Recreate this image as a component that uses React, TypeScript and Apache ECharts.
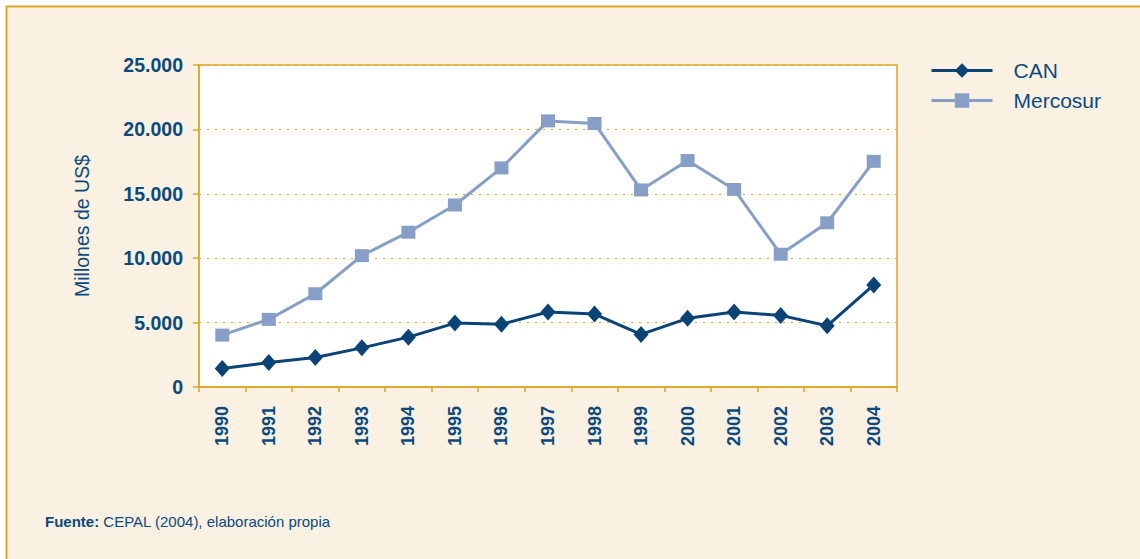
import React, { useEffect, useRef } from "react";
import * as echarts from "echarts";

const years = ["1990", "1991", "1992", "1993", "1994", "1995", "1996", "1997", "1998", "1999", "2000", "2001", "2002", "2003", "2004"];
const canValues = [1430, 1900, 2290, 3040, 3870, 4960, 4880, 5820, 5660, 4080, 5330, 5820, 5560, 4750, 7920];
const mercosurValues = [4030, 5250, 7240, 10200, 12020, 14130, 17010, 20660, 20460, 15300, 17580, 15340, 10310, 12750, 17520];
const yTicks = [0, 5000, 10000, 15000, 20000, 25000];
const seriesNames = ["CAN", "Mercosur"];
const yAxisTitle = "Millones de US$";
const sourceLabel = "Fuente:";
const sourceText = " CEPAL (2004), elaboración propia";

const FONT = '"Liberation Sans", Arial, sans-serif';
const TEXT = "#0b4a7e";
const GOLD = "#dba72a";
const CAN_COLOR = "#0b4377";
const MERC_COLOR = "#879fc6";
const CREAM = "#faf1e2";

const fmt = (v: number) => String(v).replace(/\B(?=(\d{3})+(?!\d))/g, ".");

export default function App() {
  const ref = useRef<HTMLDivElement>(null);
  useEffect(() => {
    if (!ref.current) return;
    const chart = echarts.init(ref.current, null, { renderer: "svg" });
    chart.setOption({
      animation: false,
      backgroundColor: "#ffffff",
      graphic: [
        { type: "rect", shape: { x: 6, y: 6, width: 1134, height: 553 }, style: { fill: CREAM }, z: -10 },
        { type: "line", shape: { x1: 6, y1: 6.5, x2: 1140, y2: 6.5 }, style: { stroke: GOLD, lineWidth: 2 }, z: -9 },
        { type: "line", shape: { x1: 6.5, y1: 6, x2: 6.5, y2: 559 }, style: { stroke: GOLD, lineWidth: 2 }, z: -9 },
        {
          type: "text",
          left: 45,
          top: 514,
          style: {
            text: "{b|" + sourceLabel + "}{r|" + sourceText + "}",
            rich: {
              b: { fontFamily: FONT, fontWeight: "bold", fontSize: 15, fill: TEXT },
              r: { fontFamily: FONT, fontSize: 15, fill: TEXT },
            },
          },
        },
      ],
      grid: {
        left: 199,
        right: 243,
        top: 65,
        bottom: 172,
        show: true,
        backgroundColor: "#ffffff",
        borderColor: GOLD,
        borderWidth: 1.5,
      },
      legend: {
        orient: "vertical",
        left: 930,
        top: 60,
        padding: 0,
        itemWidth: 61,
        itemHeight: 18,
        itemGap: 9,
        data: [
          { name: seriesNames[0], itemStyle: { color: CAN_COLOR }, lineStyle: { color: CAN_COLOR, width: 3 } },
          { name: seriesNames[1], itemStyle: { color: MERC_COLOR }, lineStyle: { color: MERC_COLOR, width: 3 } },
        ],
        textStyle: { fontFamily: FONT, fontSize: 21, color: TEXT, padding: [0, 0, 0, 16] },
      },
      xAxis: {
        type: "category",
        data: years,
        boundaryGap: true,
        axisLine: { lineStyle: { color: GOLD, width: 1.5 } },
        axisTick: { show: true, length: 5, lineStyle: { color: GOLD, width: 1.5 } },
        axisLabel: {
          rotate: 90,
          interval: 0,
          margin: 19,
          fontFamily: FONT,
          fontWeight: "bold",
          fontSize: 18,
          color: TEXT,
        },
      },
      yAxis: {
        type: "value",
        min: yTicks[0],
        max: yTicks[yTicks.length - 1],
        interval: yTicks[1] - yTicks[0],
        name: yAxisTitle,
        nameLocation: "middle",
        nameRotate: 90,
        nameGap: 107,
        nameTextStyle: { fontFamily: FONT, fontSize: 19.5, color: TEXT },
        axisLine: { show: true, lineStyle: { color: GOLD, width: 1.5 } },
        axisTick: { show: true, length: 6, lineStyle: { color: GOLD, width: 1.5 } },
        axisLabel: {
          margin: 16,
          fontFamily: FONT,
          fontWeight: "bold",
          fontSize: 19.5,
          color: TEXT,
          formatter: (v: number) => fmt(v),
        },
        splitLine: { show: true, lineStyle: { color: GOLD, type: [2, 6], width: 1.2 } },
      },
      series: [
        {
          name: seriesNames[0],
          type: "line",
          data: canValues,
          symbol: "diamond",
          symbolSize: [15, 17],
          itemStyle: { color: CAN_COLOR },
          lineStyle: { color: CAN_COLOR, width: 3 },
          z: 3,
        },
        {
          name: seriesNames[1],
          type: "line",
          data: mercosurValues,
          symbol: "rect",
          symbolSize: [14, 13],
          itemStyle: { color: MERC_COLOR },
          lineStyle: { color: MERC_COLOR, width: 3 },
          z: 2,
        },
      ],
    });
    return () => chart.dispose();
  }, []);
  return <div ref={ref} style={{ position: "fixed", left: 0, top: 0, width: 1140, height: 559 }} />;
}
